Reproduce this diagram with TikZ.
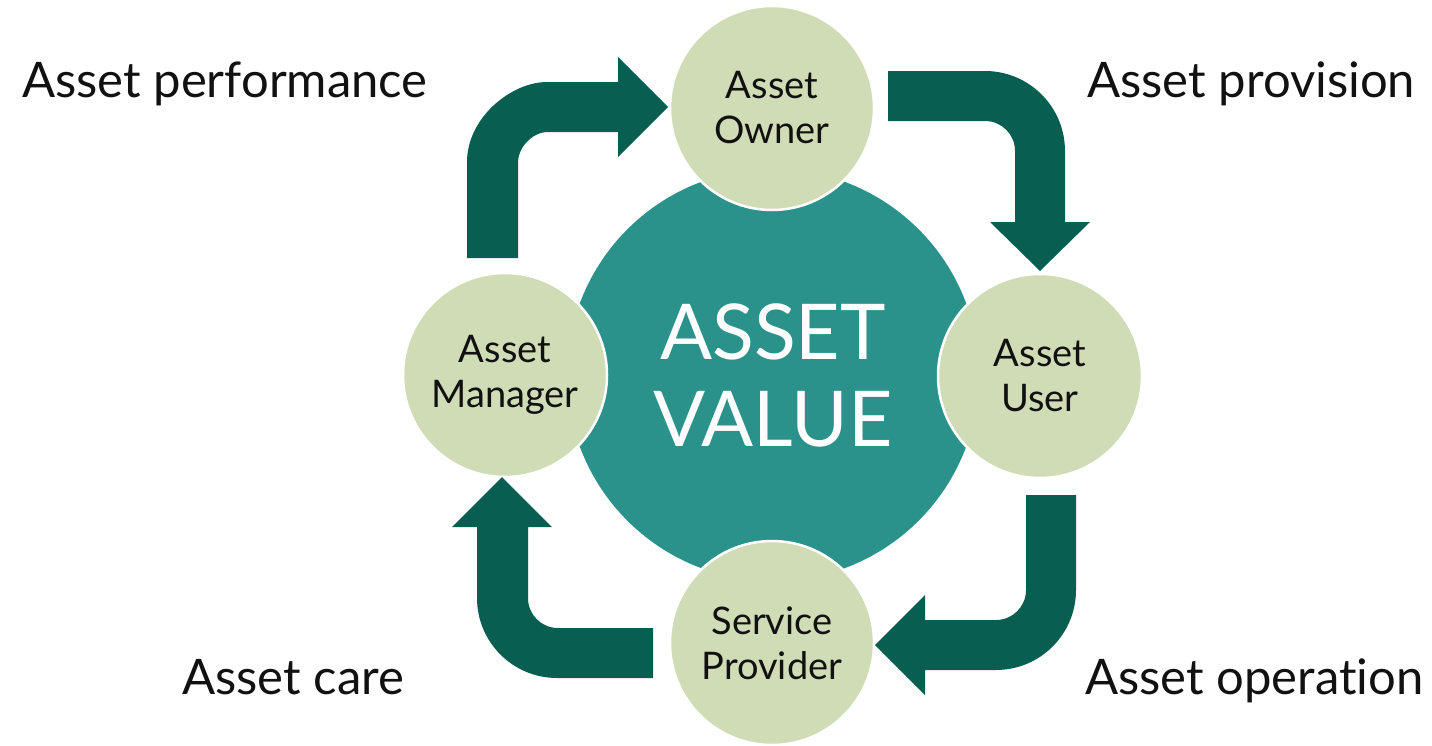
\documentclass[tikz,border=0pt]{standalone}
\usepackage{fontspec}
\setmainfont{Lato}[Ligatures=NoCommon]
\definecolor{arrowgreen}{HTML}{085F51}
\definecolor{hubteal}{HTML}{2A928B}
\definecolor{sage}{HTML}{D0DCB6}
\definecolor{ink}{HTML}{111111}
\begin{document}
\begin{tikzpicture}[x=1pt,y=-1pt,
  hub/.style={circle, fill=hubteal, minimum size=412pt, inner sep=0pt, text=white,
    font=\fontsize{77}{87}\selectfont, align=center},
  role/.style={circle, fill=sage, draw=white, line width=2.5pt, minimum size=204pt,
    inner sep=0pt, text=ink, font=\fontsize{38}{45}\selectfont, align=center},
  stage/.style={anchor=base west, inner sep=0pt, text=ink, font=\fontsize{49}{60}\selectfont},
  bentarrow/.style={fill=arrowgreen, draw=none}]
\useasboundingbox (0,0) rectangle (1432,745);

% central value circle
\node[hub] (value) at (773,375) {ASSET\\VALUE};

% role circles
\node[role] (owner)    at (772,108)  {Asset\\Owner};
\node[role] (user)     at (1040,376) {Asset\\User};
\node[role] (provider) at (772,643)  {Service\\Provider};
\node[role] (manager)  at (505,375)  {Asset\\Manager};

% bent block arrows
% asset performance (manager -> owner)
\fill[bentarrow] (467,258) -- (467,162) .. controls (467,117.8) and (511.2,82) .. (547,82)
  -- (618,82) -- (618,57) -- (668,107) -- (618,157) -- (618,132) -- (548,132)
  .. controls (531.4,132) and (518,148.6) .. (518,162) -- (518,258) -- cycle;
% asset provision (owner -> user)
\fill[bentarrow] (888,71) -- (985,71) .. controls (1029.2,71) and (1065,106.8) .. (1065,151)
  -- (1065,222) -- (1090,222) -- (1040,271) -- (990,222) -- (1015,222) -- (1015,151)
  .. controls (1015,134.4) and (1001.6,121) .. (985,121) -- (888,121) -- cycle;
% asset operation (user -> provider)
\fill[bentarrow] (1026,495) -- (1076,495) -- (1076,590) .. controls (1076,634.2) and (1040.2,670) .. (996,670)
  -- (925,670) -- (925,695) -- (875,645) -- (925,595) -- (925,620) -- (996,620)
  .. controls (1012.6,620) and (1026,606.6) .. (1026,590) -- cycle;
% asset care (provider -> manager)
\fill[bentarrow] (653,628) -- (653,678) -- (557,678) .. controls (512.8,678) and (477,642.2) .. (477,598)
  -- (477,527) -- (452,527) -- (502,477) -- (552,527) -- (528,527) -- (528,598)
  .. controls (528,614.6) and (541.4,628) .. (558,628) -- cycle;

% stage labels
\node[stage] (perf) at (22,97)   {Asset performance};
\node[stage] (prov) at (1087,97) {Asset provision};
\node[stage] (care) at (182,694) {Asset care};
\node[stage] (oper) at (1085,694) {Asset operation};
\end{tikzpicture}
\end{document}
